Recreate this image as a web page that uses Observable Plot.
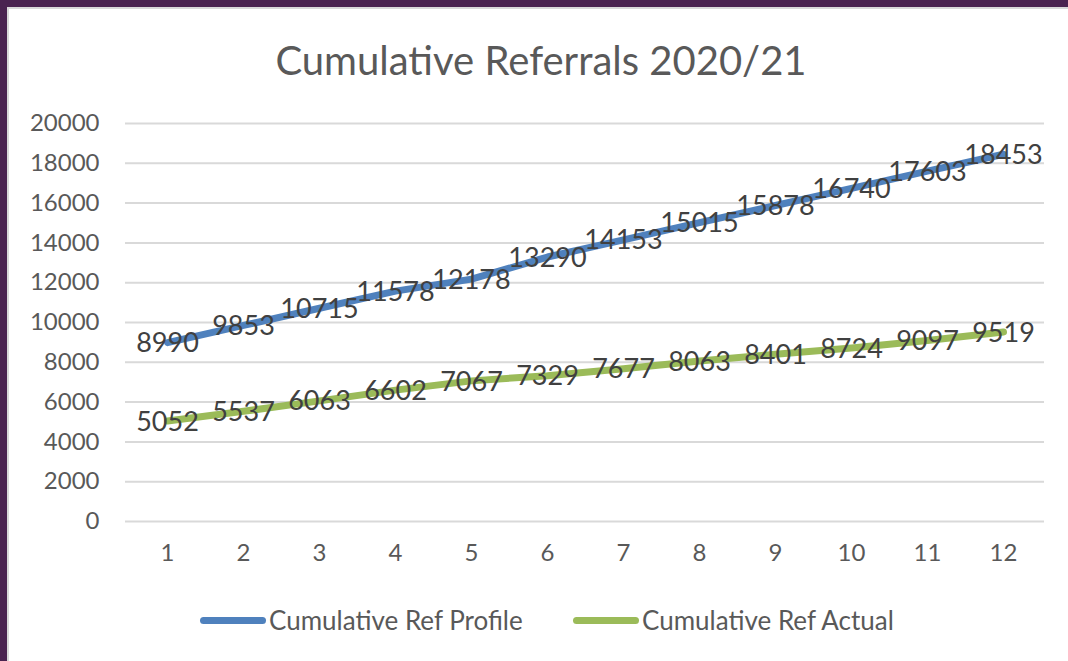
<!DOCTYPE html>
<html>
<head>
<meta charset="utf-8">
<script src="https://cdn.jsdelivr.net/npm/d3@7"></script>
<script src="https://cdn.jsdelivr.net/npm/@observablehq/plot@0.6"></script>
<style>
  html, body { margin: 0; padding: 0; }
  body { width: 1068px; height: 661px; background: #4a2350; position: relative; overflow: hidden; font-family: Lato, "Open Sans", sans-serif; }
  #panel { position: absolute; left: 7px; top: 7px; width: 1061px; height: 654px; background: #fff; border-top: 2px solid #d9d9d9; border-left: 2px solid #d9d9d9; box-sizing: border-box; }
  #title { position: absolute; left: 0; width: 1082px; top: 36px; text-align: center; font-size: 40px; color: #595959; }
  #chart { position: absolute; left: 7px; top: 100px; }
  #legend { position: absolute; top: 604px; left: 0; width: 1068px; height: 32px; }
  .item { position: absolute; top: 0; display: flex; align-items: center; font-size: 26px; color: #595959; height: 32px; }
  .swatch { width: 66px; height: 7px; border-radius: 4px; margin-right: 3px; }
</style>
</head>
<body>
<div id="panel"></div>
<div id="title">Cumulative Referrals 2020/21</div>
<div id="chart"></div>
<div id="legend"></div>
<script>
const months = [1,2,3,4,5,6,7,8,9,10,11,12];
const profile = [8990, 9853, 10715, 11578, 12178, 13290, 14153, 15015, 15878, 16740, 17603, 18453];
const actual  = [5052, 5537, 6063, 6602, 7067, 7329, 7677, 8063, 8401, 8724, 9097, 9519];
const seriesNames = ["Cumulative Ref Profile", "Cumulative Ref Actual"];
const seriesColors = ["#4f81bd", "#9bbb59"];
const yTicks = [0,2000,4000,6000,8000,10000,12000,14000,16000,18000,20000];

const data = [];
months.forEach((m, i) => {
  data.push({month: m, value: profile[i], series: seriesNames[0]});
  data.push({month: m, value: actual[i], series: seriesNames[1]});
});

const plot = Plot.plot({
  width: 1061,
  height: 490,
  marginLeft: 118,
  marginRight: 24,
  marginTop: 23,
  marginBottom: 69,
  style: { fontFamily: "Lato, 'Open Sans', sans-serif", background: "transparent", overflow: "visible" },
  x: { type: "point", domain: months, padding: 0.5, label: null },
  y: { domain: [0, 20000], label: null },
  color: { domain: seriesNames, range: seriesColors },
  marks: [
    Plot.gridY(yTicks, { stroke: "#d9d9d9", strokeOpacity: 1, strokeWidth: 2 }),
    Plot.axisY(yTicks, { tickSize: 0, tickPadding: 26, fontSize: 24, fill: "#595959", label: null, tickFormat: d => String(d) }),
    Plot.axisX(months, { tickSize: 0, tickPadding: 22, fontSize: 24, fill: "#595959", label: null }),
    Plot.line(data, { x: "month", y: "value", z: "series", stroke: "series", strokeWidth: 7, strokeLinecap: "round", strokeLinejoin: "round" }),
    Plot.text(data, { x: "month", y: "value", text: d => String(d.value), fontSize: 27, fill: "#404040", dy: 1 })
  ]
});
document.getElementById("chart").appendChild(plot);

const legend = document.getElementById("legend");
const lefts = [200, 573];
seriesNames.forEach((name, i) => {
  const item = document.createElement("div");
  item.className = "item";
  item.style.left = lefts[i] + "px";
  const sw = document.createElement("div");
  sw.className = "swatch";
  sw.style.background = seriesColors[i];
  const t = document.createElement("span");
  t.textContent = name;
  item.appendChild(sw);
  item.appendChild(t);
  legend.appendChild(item);
});
</script>
</body>
</html>
